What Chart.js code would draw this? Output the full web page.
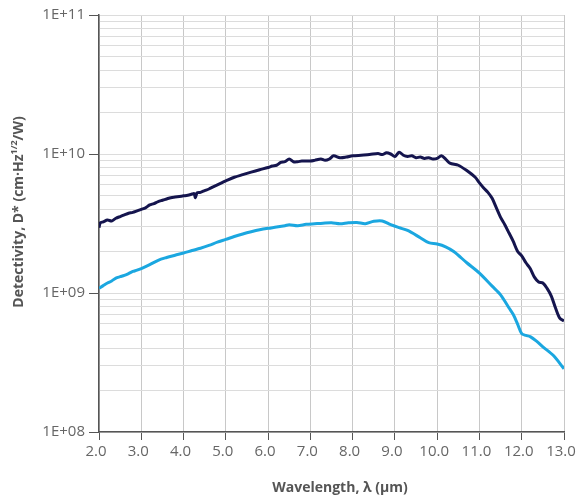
<!DOCTYPE html>
<html>
<head>
<meta charset="utf-8">
<script src="https://cdn.jsdelivr.net/npm/chart.js@4"></script>
<style>
  body { margin: 0; background: #fff; }
  #wrap { width: 577px; height: 499px; position: relative; }
</style>
</head>
<body>
<div id="wrap"><canvas id="chart"></canvas></div>
<script>
// wavelength (µm) and detectivity (units of 1E+09 cm·Hz^1/2/W)
const dark_x = [2.0, 2.03, 2.1, 2.2, 2.3, 2.4, 2.5, 2.6, 2.7, 2.8, 2.9, 3.0, 3.1, 3.2, 3.3, 3.4, 3.5, 3.6, 3.7, 3.8, 3.9, 4.0, 4.1, 4.2, 4.25, 4.28, 4.32, 4.4, 4.5, 4.6, 4.7, 4.8, 4.9, 5.0, 5.2, 5.4, 5.6, 5.8, 6.0, 6.1, 6.2, 6.3, 6.4, 6.5, 6.6, 6.7, 6.8, 7.0, 7.1, 7.25, 7.35, 7.45, 7.55, 7.7, 7.85, 8.0, 8.2, 8.4, 8.6, 8.7, 8.8, 8.9, 9.0, 9.1, 9.2, 9.3, 9.4, 9.5, 9.6, 9.7, 9.8, 9.9, 10.0, 10.1, 10.2, 10.3, 10.5, 10.7, 10.9, 11.0, 11.1, 11.2, 11.3, 11.4, 11.5, 11.6, 11.7, 11.8, 11.9, 12.0, 12.1, 12.2, 12.3, 12.4, 12.5, 12.6, 12.7, 12.8, 12.9, 13.0];
const dark_y = [2.95, 3.2, 3.25, 3.35, 3.3, 3.45, 3.55, 3.65, 3.75, 3.8, 3.9, 4.0, 4.1, 4.3, 4.4, 4.55, 4.65, 4.75, 4.85, 4.9, 4.95, 5.0, 5.05, 5.15, 5.2, 4.85, 5.25, 5.3, 5.45, 5.6, 5.8, 6.0, 6.2, 6.4, 6.8, 7.1, 7.4, 7.7, 8.0, 8.2, 8.3, 8.7, 8.8, 9.2, 8.8, 8.8, 8.9, 8.9, 9.0, 9.2, 9.0, 9.2, 9.7, 9.4, 9.5, 9.7, 9.8, 9.9, 10.1, 9.9, 10.2, 10.0, 9.6, 10.3, 9.8, 9.6, 9.7, 9.4, 9.5, 9.3, 9.4, 9.2, 9.3, 9.7, 9.2, 8.6, 8.3, 7.6, 6.8, 6.2, 5.7, 5.3, 4.8, 4.1, 3.5, 3.1, 2.7, 2.35, 2.0, 1.85, 1.65, 1.5, 1.3, 1.2, 1.18, 1.08, 0.95, 0.78, 0.66, 0.63];

const light_x = [2.0, 2.1, 2.2, 2.3, 2.4, 2.5, 2.6, 2.7, 2.8, 2.9, 3.0, 3.2, 3.4, 3.6, 3.8, 4.0, 4.2, 4.4, 4.6, 4.8, 5.0, 5.2, 5.4, 5.6, 5.8, 6.0, 6.2, 6.4, 6.5, 6.7, 6.9, 7.1, 7.3, 7.5, 7.7, 7.9, 8.1, 8.3, 8.5, 8.7, 8.9, 9.1, 9.3, 9.6, 9.8, 10.0, 10.2, 10.4, 10.7, 11.0, 11.3, 11.5, 11.7, 11.8, 11.9, 12.0, 12.1, 12.2, 12.35, 12.5, 12.75, 13.0];
const light_y = [1.08, 1.13, 1.18, 1.22, 1.28, 1.31, 1.34, 1.38, 1.43, 1.46, 1.5, 1.6, 1.72, 1.8, 1.87, 1.94, 2.02, 2.1, 2.2, 2.32, 2.43, 2.55, 2.66, 2.76, 2.85, 2.92, 2.98, 3.05, 3.1, 3.05, 3.12, 3.15, 3.18, 3.2, 3.15, 3.2, 3.22, 3.15, 3.28, 3.3, 3.1, 2.95, 2.82, 2.5, 2.3, 2.25, 2.15, 1.98, 1.65, 1.39, 1.12, 0.97, 0.78, 0.7, 0.6, 0.51, 0.495, 0.485, 0.45, 0.41, 0.355, 0.285];

const x_ticks = [2, 3, 4, 5, 6, 7, 8, 9, 10, 11, 12, 13];
const y_decades = [1e8, 1e9, 1e10, 1e11];
const y_labels = ["1E+08", "1E+09", "1E+10", "1E+11"];

// gridlines at 1..9 of each decade
let y_grid = [];
for (let d = 0; d < 3; d++) {
	for (let m = 1; m < 10; m++) y_grid.push(m * y_decades[d]);
}
y_grid.push(1e11);

function isDecade(v) {
	return y_decades.some(d => Math.abs(v - d) / d < 1e-6);
}

function toPoints(xs, ys) {
	return xs.map((x, i) => ({ x: x, y: ys[i] * 1e9 }));
}

Chart.defaults.font.family = "'Open Sans', 'DejaVu Sans', sans-serif";

// axis titles, the y one carries a superscript
const titles_plugin = {
	id: "titles",
	afterDraw(chart) {
		const c = chart.ctx;
		c.save();
		c.fillStyle = "#555";
		c.textBaseline = "middle";

		c.font = "bold 14px 'Open Sans'";
		c.textAlign = "center";
		c.fillText("Wavelength, λ (µm)", 340, 488);

		c.translate(19, 212);
		c.rotate(-Math.PI / 2);
		const a = "Detectivity, D* (cm·Hz", b = "1/2", e = "/W)";
		c.font = "bold 14px 'Open Sans'";
		const wa = c.measureText(a).width, we = c.measureText(e).width;
		c.font = "bold 9px 'Open Sans'";
		const wb = c.measureText(b).width;
		let x = -(wa + wb + we) / 2;
		c.textAlign = "left";
		c.font = "bold 14px 'Open Sans'";
		c.fillText(a, x, 0);
		c.font = "bold 9px 'Open Sans'";
		c.fillText(b, x + wa, -5);
		c.font = "bold 14px 'Open Sans'";
		c.fillText(e, x + wa + wb, 0);
		c.restore();
	}
};

new Chart(document.getElementById("chart"), {
	type: "line",
	data: {
		datasets: [{
			data: toPoints(dark_x, dark_y),
			borderColor: "#15154e",
			borderWidth: 3,
			pointRadius: 0,
			tension: 0.3,
			fill: false
		}, {
			data: toPoints(light_x, light_y),
			borderColor: "#1ba7e0",
			borderWidth: 3,
			pointRadius: 0,
			tension: 0.3,
			fill: false
		}]
	},
	options: {
		responsive: true,
		maintainAspectRatio: false,
		animation: false,
		layout: { padding: { top: 15, right: 13, left: 0, bottom: 0 } },
		plugins: { legend: { display: false }, tooltip: { enabled: false } },
		scales: {
			x: {
				type: "linear",
				min: 2,
				max: 13,
				afterBuildTicks: scale => {
					scale.ticks = x_ticks.map(v => ({ value: v }));
				},
				afterFit: scale => {
					scale.height = 67;
					scale.paddingLeft = 0;
					scale.paddingRight = 0;
				},
				ticks: {
					autoSkip: false,
					maxRotation: 0,
					padding: 3,
					labelOffset: -3,
					color: "#666",
					font: { size: 15 },
					callback: v => v.toFixed(1)
				},
				grid: { color: "#c8c8c8", tickColor: "#555", tickLength: 8, lineWidth: 1 },
				border: { color: "#555", width: 1.5 }
			},
			y: {
				type: "logarithmic",
				min: 1e8,
				max: 1e11,
				afterBuildTicks: scale => {
					scale.ticks = y_grid.map(v => ({ value: v, major: isDecade(v) }));
				},
				afterFit: scale => {
					scale.width = 99;
					scale.paddingTop = 0;
					scale.paddingBottom = 0;
				},
				ticks: {
					autoSkip: false,
					padding: 4,
					color: "#666",
					font: { size: 15 },
					callback: v => {
						const i = y_decades.findIndex(d => Math.abs(v - d) / d < 1e-6);
						return i >= 0 ? y_labels[i] : "";
					}
				},
				grid: {
					color: "#dcdcdc",
					lineWidth: 1,
					tickLength: 10,
					tickColor: ctx => (ctx.tick && isDecade(ctx.tick.value)) ? "#555" : "rgba(0,0,0,0)"
				},
				border: { color: "#555", width: 1.5 }
			}
		}
	},
	plugins: [titles_plugin]
});
</script>
</body>
</html>
